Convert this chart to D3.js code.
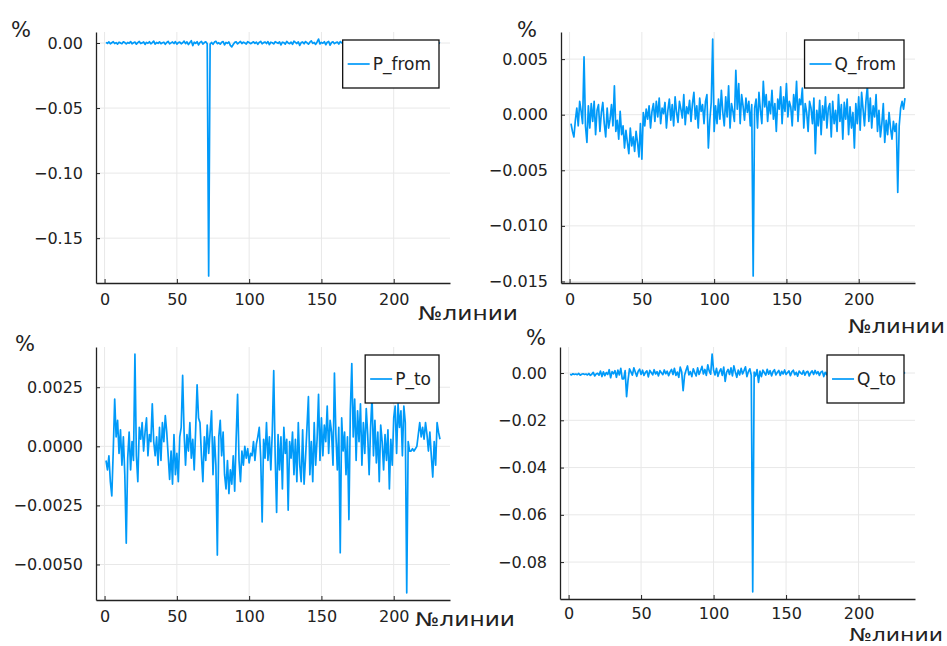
<!DOCTYPE html>
<html>
<head>
<meta charset="utf-8">
<script src="https://cdn.jsdelivr.net/npm/d3@7"></script>
<style>
  body { margin: 0; background: #fff; }
  svg { display: block; font-family: "DejaVu Sans", sans-serif; }
</style>
</head>
<body>
<svg id="chart" width="947" height="646"></svg>
<script>
// line numbers go from 1 to lineCount
const lineCount = 232;

// deviation of P_from, %
const pFrom = [
  0.0005, -0.0003, 0.0008, -0.0006, 0.0002, 0.0010, -0.0004, 0.0003, -0.0008, 0.0006,
  0.0001, -0.0005, 0.0009, 0.0003, -0.0007, 0.0004, -0.0002, 0.0011, -0.0006, 0.0002,
  0.0007, -0.0009, 0.0003, 0.0012, -0.0004, 0.0001, 0.0008, -0.0011, 0.0005, -0.0002,
  0.0010, -0.0006, 0.0003, 0.0015, -0.0008, 0.0004, -0.0003, 0.0009, -0.0005, 0.0002,
  0.0006, -0.0010, 0.0004, 0.0013, -0.0007, 0.0001, 0.0008, -0.0004, 0.0011, -0.0009,
  0.0003, 0.0007, -0.0006, 0.0002, 0.0014, -0.0005, 0.0009, -0.0012, 0.0004, 0.0018,
  -0.0020, 0.0006, -0.0003, 0.0010, -0.0015, 0.0005, 0.0012, -0.0008, 0.0003, 0.0009,
  -0.0006, -0.1790, -0.0008, 0.0004, -0.0010, 0.0007, 0.0013, -0.0005, 0.0002, -0.0009,
  0.0006, 0.0011, -0.0014, 0.0004, -0.0002, 0.0008, -0.0018, -0.0030, -0.0012, 0.0005,
  0.0009, -0.0007, 0.0003, 0.0012, -0.0004, 0.0006, 0.0001, -0.0008, 0.0010, 0.0004,
  -0.0005, 0.0002, 0.0009, -0.0003, 0.0007, -0.0010, 0.0005, 0.0013, -0.0006, 0.0003,
  0.0008, -0.0004, 0.0011, -0.0012, 0.0006, 0.0002, -0.0007, 0.0010, 0.0004, -0.0003,
  0.0009, -0.0015, 0.0006, 0.0003, -0.0008, 0.0012, 0.0001, -0.0005, 0.0007, -0.0010,
  0.0014, 0.0005, -0.0004, 0.0009, -0.0018, 0.0003, 0.0008, -0.0006, 0.0011, 0.0002,
  -0.0009, 0.0006, 0.0016, -0.0003, 0.0004, -0.0011, 0.0008, 0.0030, -0.0007, 0.0005,
  -0.0002, 0.0010, -0.0013, 0.0006, 0.0012, -0.0016, 0.0004, 0.0009, -0.0005, 0.0003,
  0.0007, -0.0008, 0.0011, 0.0002, -0.0004, 0.0008, -0.0010, 0.0005, 0.0001, -0.0006,
  0.0009, 0.0003, -0.0007, 0.0012, -0.0002, 0.0006, -0.0009, 0.0004, 0.0010, -0.0005,
  0.0002, 0.0008, -0.0011, 0.0005, 0.0003, -0.0006, 0.0009, -0.0003, 0.0007, 0.0001,
  -0.0008, 0.0011, 0.0004, -0.0005, 0.0006, -0.0002, 0.0010, -0.0009, 0.0003, 0.0007,
  -0.0004, 0.0005, 0.0012, -0.0007, 0.0002, 0.0008, -0.0010, 0.0004, 0.0001, -0.0006,
  0.0009, 0.0003, -0.0005, 0.0007, -0.0002, 0.0011, -0.0008, 0.0005, 0.0002, -0.0004,
  0.0006, 0.0010, -0.0007, 0.0003, 0.0008, -0.0009, 0.0004, 0.0001, -0.0005, 0.0007,
  0.0002, -0.0003
];

// deviation of Q_from, %
const qFrom = [
  -0.0008, -0.0015, -0.0020, -0.0005, 0.0006, -0.0010, 0.0012, 0.0003, -0.0008, 0.0052,
  -0.0010, -0.0025, 0.0008, -0.0012, 0.0010, -0.0006, 0.0012, -0.0018, 0.0004, 0.0009,
  -0.0015, 0.0002, 0.0011, -0.0008, -0.0020, 0.0006, -0.0012, -0.0004, 0.0009, -0.0010,
  0.0026, -0.0015, -0.0005, -0.0022, 0.0003, -0.0018, -0.0010, -0.0030, -0.0014, -0.0025,
  -0.0035, -0.0012, -0.0028, -0.0020, -0.0033, -0.0015, -0.0025, -0.0038, -0.0008, -0.0040,
  0.0002, -0.0010, 0.0005, -0.0004, 0.0008, -0.0012, 0.0003, 0.0010, -0.0006, 0.0012,
  -0.0002, 0.0015, -0.0008, 0.0006, 0.0001, 0.0011, -0.0012, 0.0004, 0.0014, -0.0005,
  0.0009, -0.0010, 0.0016, 0.0002, -0.0007, 0.0012, 0.0005, -0.0003, 0.0018, -0.0009,
  0.0007, 0.0001, 0.0013, -0.0006, 0.0010, 0.0020, -0.0004, 0.0008, -0.0012, 0.0015,
  0.0003, 0.0009, -0.0008, 0.0012, 0.0018, -0.0030, -0.0005, 0.0011, 0.0068, -0.0015,
  0.0008, -0.0008, 0.0014, -0.0004, 0.0022, 0.0002, -0.0010, 0.0016, -0.0002, 0.0026,
  -0.0012, 0.0010, 0.0003, -0.0006, 0.0040, 0.0005, 0.0028, -0.0008, 0.0018, 0.0008,
  -0.0005, 0.0015, 0.0002, 0.0012, -0.0010, 0.0009, -0.0145, 0.0006, 0.0014, -0.0012,
  0.0020, 0.0004, -0.0008, 0.0030, 0.0007, 0.0018, -0.0006, 0.0012, 0.0001, 0.0022,
  -0.0004, 0.0010, -0.0015, 0.0014, 0.0005, 0.0025, -0.0008, 0.0016, 0.0003, 0.0028,
  -0.0002, 0.0012, 0.0007, -0.0010, 0.0018, 0.0004, 0.0030, -0.0006, 0.0014, 0.0009,
  0.0024, -0.0012, 0.0010, 0.0002, -0.0015, 0.0012, 0.0006, -0.0008, 0.0015, -0.0035,
  0.0004, -0.0010, 0.0013, -0.0018, 0.0008, -0.0005, 0.0016, -0.0012, 0.0006, 0.0010,
  -0.0020, 0.0012, -0.0008, 0.0004, -0.0015, 0.0018, -0.0006, 0.0009, -0.0022, 0.0011,
  -0.0004, 0.0014, -0.0018, 0.0007, -0.0012, 0.0002, -0.0030, 0.0010, -0.0008, 0.0016,
  -0.0014, 0.0020, 0.0005, -0.0010, 0.0012, 0.0026, -0.0006, 0.0015, -0.0012, 0.0008,
  -0.0002, 0.0018, -0.0015, 0.0004, -0.0020, -0.0008, 0.0010, -0.0025, -0.0005, -0.0018,
  0.0002, -0.0012, -0.0022, -0.0006, -0.0015, -0.0008, -0.0070, -0.0010, 0.0006, 0.0012,
  0.0005, 0.0015
];

// deviation of P_to, %
const pTo = [
  -0.0006, -0.0010, -0.0004, -0.0015, -0.0021, -0.0002, 0.0020, 0.0004, 0.0011, -0.0003,
  0.0007, -0.0008, 0.0004, -0.0012, -0.0041, -0.0005, 0.0006, -0.0010, 0.0002, -0.0006,
  0.0039, -0.0004, -0.0015, 0.0008, 0.0003, 0.0010, -0.0002, 0.0006, 0.0012, -0.0004,
  0.0005, 0.0002, 0.0018, 0.0002, -0.0004, 0.0004, -0.0008, 0.0008, -0.0006, 0.0010,
  0.0002, 0.0013, 0.0006, -0.0004, -0.0014, -0.0002, -0.0016, 0.0005, -0.0012, -0.0003,
  -0.0015, 0.0004, 0.0008, 0.0030, 0.0006, -0.0008, 0.0005, -0.0002, 0.0010, -0.0005,
  0.0003, -0.0010, 0.0007, 0.0026, 0.0012, 0.0010, -0.0004, -0.0015, 0.0004, -0.0006,
  0.0009, -0.0003, 0.0006, 0.0015, -0.0012, 0.0004, -0.0008, -0.0046, 0.0004, 0.0011,
  -0.0004, 0.0006, -0.0012, -0.0018, -0.0006, -0.0020, -0.0010, -0.0016, -0.0004, -0.0019,
  0.0003, 0.0022, -0.0006, -0.0015, -0.0002, -0.0008, 0.0000, -0.0005, -0.0001, -0.0007,
  -0.0003, -0.0004, 0.0002, -0.0006, 0.0001, 0.0004, 0.0008, -0.0005, -0.0032, 0.0003,
  -0.0005, 0.0010, -0.0006, 0.0004, -0.0010, 0.0006, 0.0032, -0.0004, -0.0028, 0.0005,
  -0.0010, 0.0004, -0.0018, 0.0008, -0.0003, 0.0003, -0.0027, 0.0002, -0.0005, 0.0006,
  -0.0012, 0.0003, -0.0015, 0.0010, -0.0008, -0.0015, 0.0007, -0.0016, -0.0005, 0.0008,
  0.0021, -0.0012, 0.0002, -0.0015, 0.0010, -0.0008, 0.0003, 0.0022, -0.0006, 0.0012,
  -0.0004, 0.0009, 0.0002, 0.0017, -0.0003, 0.0011, 0.0006, -0.0008, 0.0031, 0.0005,
  -0.0010, 0.0008, -0.0045, 0.0012, -0.0002, 0.0006, -0.0012, 0.0004, -0.0031, 0.0015,
  0.0035, 0.0004, 0.0020, -0.0006, 0.0015, 0.0002, 0.0018, -0.0008, 0.0010, -0.0003,
  0.0016, 0.0005, -0.0012, 0.0008, 0.0021, -0.0004, 0.0011, -0.0007, 0.0006, -0.0015,
  0.0009, 0.0002, -0.0010, 0.0005, -0.0006, 0.0007, -0.0018, 0.0003, -0.0008, 0.0012,
  0.0017, -0.0003, 0.0018, 0.0008, 0.0015, -0.0004, 0.0017, 0.0010, -0.0062, 0.0002,
  -0.0002, -0.0002, -0.0001, -0.0002, -0.0001, 0.0000, 0.0005, 0.0010, 0.0004, 0.0008,
  0.0003, 0.0010, 0.0005, -0.0002, 0.0006, -0.0004, -0.0013, 0.0002, -0.0008, 0.0010,
  0.0006, 0.0003
];

// deviation of Q_to, %
const qTo = [
  -0.0005, -0.0008, -0.0003, -0.0006, -0.0004, -0.0007, -0.0002, -0.0009, -0.0005, -0.0003,
  -0.0006, -0.0004, -0.0008, -0.0002, -0.0010, -0.0005, 0.0003, -0.0012, -0.0004, -0.0001,
  -0.0009, 0.0008, -0.0015, 0.0005, -0.0011, 0.0002, -0.0006, 0.0014, -0.0020, 0.0006,
  -0.0003, 0.0010, -0.0018, 0.0012, -0.0008, 0.0020, -0.0025, -0.0025, 0.0010, -0.0100,
  -0.0030, 0.0018, 0.0005, -0.0009, 0.0022, 0.0004, -0.0014, 0.0008, 0.0016, -0.0006,
  0.0012, -0.0010, 0.0003, 0.0009, -0.0016, 0.0011, 0.0002, -0.0008, 0.0014, -0.0004,
  0.0006, -0.0012, 0.0010, 0.0001, -0.0007, 0.0013, -0.0003, 0.0008, -0.0011, 0.0005,
  0.0015, -0.0006, 0.0020, -0.0010, 0.0004, -0.0018, 0.0025, 0.0005, -0.0075, -0.0009,
  0.0012, 0.0030, -0.0008, 0.0006, -0.0015, 0.0018, 0.0002, -0.0012, 0.0022, -0.0006,
  0.0010, 0.0028, -0.0004, 0.0015, -0.0010, 0.0035, 0.0008, -0.0005, 0.0080, 0.0012,
  -0.0008, 0.0020, -0.0014, 0.0006, 0.0018, -0.0010, 0.0025, -0.0035, 0.0004, 0.0015,
  -0.0006, 0.0022, -0.0012, 0.0030, 0.0005, -0.0018, 0.0012, -0.0008, 0.0020, -0.0004,
  0.0010, 0.0026, -0.0015, 0.0006, 0.0018, -0.0010, -0.0926, 0.0004, -0.0012, 0.0015,
  -0.0040, 0.0008, -0.0015, 0.0012, 0.0002, -0.0009, 0.0016, -0.0005, 0.0010, -0.0012,
  0.0006, 0.0014, -0.0008, 0.0003, 0.0011, -0.0010, 0.0007, -0.0004, 0.0013, -0.0006,
  0.0002, 0.0009, -0.0011, 0.0005, 0.0012, -0.0007, 0.0003, -0.0013, 0.0008, 0.0001,
  -0.0005, 0.0010, -0.0009, 0.0004, 0.0007, -0.0012, 0.0002, 0.0009, -0.0006, 0.0011,
  -0.0003, 0.0006, -0.0010, 0.0004, 0.0008, -0.0015, 0.0003, -0.0007, 0.0012, -0.0020,
  0.0005, -0.0004, 0.0009, -0.0011, 0.0002, 0.0007, -0.0008, 0.0004, -0.0013, 0.0006,
  0.0001, -0.0009, 0.0008, -0.0005, 0.0003, -0.0010, 0.0006, 0.0002, -0.0007, 0.0004,
  -0.0003, 0.0008, -0.0011, 0.0005, 0.0001, -0.0006, 0.0009, -0.0004, 0.0003, -0.0008,
  0.0006, 0.0002, -0.0005, 0.0007, -0.0009, 0.0004, 0.0001, -0.0006, 0.0008, -0.0003,
  0.0005, -0.0007, 0.0002, 0.0006, -0.0004, 0.0009, -0.0008, 0.0003, 0.0001, -0.0005,
  0.0004, -0.0002
];

// tick labels
const xTicks = [0, 50, 100, 150, 200];
const pFromTicks = [0, -0.05, -0.10, -0.15];
const qFromTicks = [0.005, 0, -0.005, -0.010, -0.015];
const pToTicks = [0.0025, 0, -0.0025, -0.0050];
const qToTicks = [0, -0.02, -0.04, -0.06, -0.08];

const seriesColor = "#009af9";
const fontSize = 16;

let svg = d3.select("#chart");

// same padding rule as Plots.jl: 3% on each side
function widen(ext) {
  let pad = (ext[1] - ext[0]) * 0.03;
  return [ext[0] - pad, ext[1] + pad];
}

let panels = [
  { name: "P_from", values: pFrom, ticks: pFromTicks, fmt: ".2f",
    l: 96, r: 450, t: 32, b: 283, pct: [21, 37],
    xlab: { x: 418, y: 320, size: 19, len: 100 }, xpad: 11 },
  { name: "Q_from", values: qFrom, ticks: qFromTicks, fmt: ".3f",
    l: 561, r: 915, t: 32, b: 283, pct: [527, 37],
    xlab: { x: 848, y: 333, size: 19, len: 97 }, xpad: 11 },
  { name: "P_to", values: pTo, ticks: pToTicks, fmt: ".4f",
    l: 96, r: 450, t: 347, b: 600, pct: [25, 351],
    xlab: { x: 415, y: 626, size: 19, len: 100 }, xpad: 11 },
  { name: "Q_to", values: qTo, ticks: qToTicks, fmt: ".2f",
    l: 560, r: 915, t: 347, b: 599, pct: [536, 345],
    xlab: { x: 849, y: 641, size: 18, len: 94 }, xpad: 9 }
];

panels.forEach(function (p) {
  let g = svg.append("g");

  let x = d3.scaleLinear()
    .domain(widen([1, lineCount]))
    .range([p.l, p.r]);
  let y = d3.scaleLinear()
    .domain(widen(d3.extent(p.values)))
    .range([p.b, p.t]);

  // grid
  g.selectAll(".gx")
    .data(xTicks)
    .enter()
    .append("line")
    .attr("x1", d => x(d)).attr("x2", d => x(d))
    .attr("y1", p.t).attr("y2", p.b)
    .attr("stroke", "#e8e8e8");
  g.selectAll(".gy")
    .data(p.ticks)
    .enter()
    .append("line")
    .attr("x1", p.l).attr("x2", p.r)
    .attr("y1", d => y(d)).attr("y2", d => y(d))
    .attr("stroke", "#e8e8e8");

  // the series
  g.append("path")
    .datum(p.values)
    .attr("fill", "none")
    .attr("stroke", seriesColor)
    .attr("stroke-width", 1.7)
    .attr("stroke-linejoin", "round")
    .attr("d", d3.line().x((d, i) => x(i + 1)).y(d => y(d)));

  // axes
  let xAxis = g.append("g")
    .attr("transform", "translate(0," + p.b + ")")
    .call(d3.axisBottom(x).tickValues(xTicks).tickSizeInner(-4).tickSizeOuter(0).tickPadding(p.xpad));
  let yAxis = g.append("g")
    .attr("transform", "translate(" + p.l + ",0)")
    .call(d3.axisLeft(y).tickValues(p.ticks).tickFormat(d3.format(p.fmt))
      .tickSizeInner(-4).tickSizeOuter(0).tickPadding(13));
  [xAxis, yAxis].forEach(function (a) {
    a.attr("font-family", null).attr("font-size", null);
    a.select(".domain").attr("stroke", "#222").attr("stroke-width", 1.3);
    a.selectAll(".tick line").attr("stroke", "#222");
    a.selectAll(".tick text").attr("fill", "#222").style("font-size", fontSize + "px");
  });

  // axis titles
  g.append("text")
    .attr("x", p.pct[0]).attr("y", p.pct[1])
    .attr("text-anchor", "middle")
    .style("font-size", "21px")
    .attr("fill", "#222")
    .text("%");
  g.append("text")
    .attr("x", p.xlab.x).attr("y", p.xlab.y)
    .style("font-size", p.xlab.size + "px")
    .attr("textLength", p.xlab.len)
    .attr("lengthAdjust", "spacingAndGlyphs")
    .attr("fill", "#222")
    .text("№линии");

  // legend
  let leg = g.append("g");
  let box = leg.append("rect")
    .attr("fill", "#fff")
    .attr("stroke", "#111")
    .attr("stroke-width", 1.3);
  let label = leg.append("text")
    .style("font-size", "17px")
    .attr("fill", "#222")
    .text(p.name);
  let tw = label.node().getComputedTextLength();
  let bw = 5 + 22 + 3 + tw + 8, bh = 48;
  let bx = p.r - 11 - bw, by = p.t + 8;
  box.attr("x", bx).attr("y", by).attr("width", bw).attr("height", bh);
  leg.append("line")
    .attr("x1", bx + 5).attr("x2", bx + 27)
    .attr("y1", by + bh / 2).attr("y2", by + bh / 2)
    .attr("stroke", seriesColor)
    .attr("stroke-width", 1.7);
  label.attr("x", bx + 30).attr("y", by + bh / 2).attr("dy", "0.35em");
});
</script>
</body>
</html>
